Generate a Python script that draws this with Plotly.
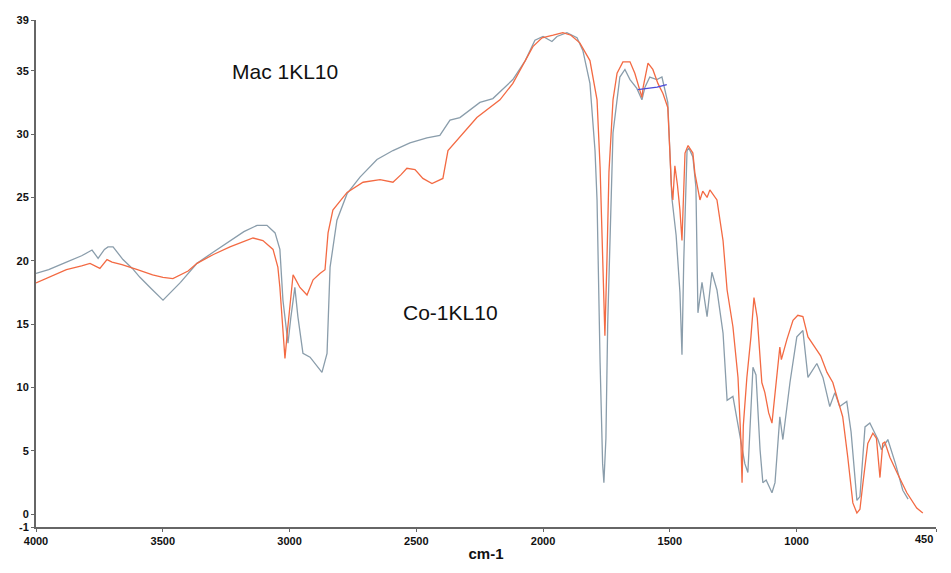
import plotly.graph_objects as go

# Series: Mac 1KL10 (grey-blue)
mac_wn = [4000, 3950, 3880, 3820, 3779, 3755, 3730, 3716, 3696, 3657, 3620, 3590, 3545, 3499,
          3430, 3365, 3300, 3235, 3180, 3128, 3089, 3057, 3038, 3026, 3006, 2995, 2979, 2967,
          2947, 2919, 2895, 2872, 2852, 2840, 2813, 2773, 2722, 2655, 2592, 2525, 2458, 2407,
          2367, 2328, 2249, 2198, 2119, 2070, 2032, 2000, 1965, 1945, 1906, 1866, 1843, 1815,
          1795, 1787, 1775, 1765, 1760, 1752, 1745, 1736, 1724, 1697, 1677, 1657, 1630, 1610,
          1598, 1579, 1551, 1531, 1519, 1508, 1492, 1475, 1460, 1452, 1445, 1432, 1425, 1409,
          1397, 1389, 1373, 1353, 1334, 1314, 1290, 1274, 1251, 1231, 1215, 1204, 1192, 1172,
          1160, 1144, 1133, 1120, 1097, 1085, 1066, 1054, 1026, 999, 975, 955, 920, 896, 869,
          849, 830, 802, 785, 762, 750, 730, 711, 679, 665, 640, 610, 581, 560]
mac_t = [19.0, 19.3, 19.9, 20.4, 20.85, 20.2, 20.9, 21.1, 21.1, 20.1, 19.4, 18.7, 17.8, 16.9,
         18.3, 19.8, 20.7, 21.6, 22.3, 22.8, 22.8, 22.2, 20.9, 16.9, 13.5, 15.5, 17.9, 15.6,
         12.7, 12.4, 11.8, 11.2, 12.7, 19.5, 23.2, 25.3, 26.6, 28.0, 28.7, 29.3, 29.7, 29.9,
         31.1, 31.3, 32.5, 32.8, 34.3, 35.8, 37.4, 37.7, 37.3, 37.7, 38.0, 37.6, 36.6, 34.0,
         28.7, 24.8, 12.0, 4.0, 2.5, 6.0, 15.0, 22.2, 30.1, 34.5, 35.1, 34.3, 33.6, 32.7,
         33.7, 34.5, 34.3, 34.5, 33.5, 32.5, 25.0, 22.0, 17.5, 12.6, 20.0, 28.7, 28.9, 28.2,
         25.8, 15.9, 18.3, 15.6, 19.1, 17.7, 14.3, 9.0, 9.3, 6.9, 5.1, 4.0, 3.3, 11.6,
         11.0, 5.1, 2.5, 2.7, 1.7, 2.5, 7.7, 5.9, 10.4, 14.0, 14.5, 10.8, 11.9, 10.8, 8.5,
         9.6, 8.5, 8.9, 6.5, 1.1, 1.4, 6.9, 7.2, 5.9, 5.1, 5.9, 4.0, 1.9, 1.2]

# Series: Co-1KL10 (orange)
co_wn = [4000, 3950, 3880, 3820, 3787, 3748, 3720, 3700, 3661, 3600, 3540, 3499, 3460, 3400,
         3365, 3300, 3235, 3144, 3105, 3065, 3046, 3038, 3026, 3018, 3008, 2998, 2986, 2975,
         2959, 2931, 2907, 2880, 2860, 2848, 2829, 2773, 2710, 2643, 2592, 2560, 2537, 2505,
         2474, 2438, 2395, 2375, 2328, 2261, 2170, 2119, 2040, 2004, 1960, 1922, 1890, 1855,
         1815, 1787, 1775, 1765, 1756, 1748, 1740, 1724, 1708, 1685, 1657, 1638, 1610, 1605,
         1586, 1567, 1547, 1527, 1508, 1500, 1494, 1488, 1480, 1470, 1460, 1452, 1446, 1440,
         1428, 1409, 1401, 1381, 1370, 1353, 1342, 1314, 1290, 1274, 1251, 1231, 1220, 1215,
         1210, 1196, 1180, 1168, 1155, 1137, 1125, 1110, 1097, 1085, 1066, 1060, 1038, 1014,
         995, 975, 955, 928, 905, 880, 857, 837, 818, 798, 778, 762, 750, 738, 719, 699, 685,
         671, 660, 652, 632, 604, 565, 526, 502]
co_t = [18.25, 18.7, 19.3, 19.6, 19.8, 19.4, 20.1, 19.9, 19.7, 19.3, 18.9, 18.7, 18.6, 19.2,
        19.8, 20.5, 21.1, 21.8, 21.6, 20.9, 19.5, 17.9, 14.5, 12.3, 14.5, 16.4, 18.9, 18.5,
        17.9, 17.3, 18.5, 19.0, 19.3, 22.2, 24.0, 25.4, 26.2, 26.4, 26.2, 26.8, 27.3, 27.2,
        26.5, 26.1, 26.5, 28.7, 29.8, 31.3, 32.7, 34.0, 36.9, 37.6, 37.8, 38.0, 37.8, 37.2,
        35.8, 32.7, 27.4, 20.0, 14.1, 20.0, 27.0, 32.7, 34.8, 35.7, 35.7, 34.8, 32.9, 33.7,
        35.6, 35.1, 34.0, 33.2, 32.1, 28.7, 26.0, 24.8, 27.5, 26.0, 24.0, 21.6, 26.0, 28.5,
        29.1, 28.5, 26.9, 24.8, 25.5, 25.0, 25.6, 24.8, 21.6, 17.7, 14.8, 10.8, 6.0, 2.5,
        7.0, 10.8, 14.0, 17.1, 15.5, 10.4, 9.6, 8.0, 7.2, 9.6, 13.2, 12.2, 13.8, 15.3,
        15.7, 15.6, 14.0, 13.2, 12.5, 11.2, 10.4, 9.0, 7.7, 4.5, 0.9, 0.1, 0.4, 2.5, 5.6, 6.4, 6.0,
        2.9, 5.6, 5.7, 4.5, 3.3, 1.7, 0.5, 0.1]

# Small blue segment
blue_wn = [1626, 1590, 1550, 1512]
blue_t = [33.5, 33.6, 33.7, 33.9]

x_ticks = [4000, 3500, 3000, 2500, 2000, 1500, 1000, 450]
y_ticks = [-1, 0, 5, 10, 15, 20, 25, 30, 35, 39]

fig = go.Figure()
fig.add_trace(go.Scatter(x=mac_wn, y=mac_t, mode="lines", name="Mac 1KL10",
                         line=dict(color="#8a9dab", width=1.3)))
fig.add_trace(go.Scatter(x=co_wn, y=co_t, mode="lines", name="Co-1KL10",
                         line=dict(color="#f36a43", width=1.3)))
fig.add_trace(go.Scatter(x=blue_wn, y=blue_t, mode="lines", name="",
                         line=dict(color="#4b4bd8", width=1.3)))

fig.add_annotation(x=3018, y=34.9, text="Mac 1KL10", showarrow=False,
                   font=dict(family="Liberation Sans, Arial", size=21, color="#111"))
fig.add_annotation(x=2367, y=15.9, text="Co-1KL10", showarrow=False,
                   font=dict(family="Liberation Sans, Arial", size=21, color="#111"))

axis_font = dict(family="Liberation Sans, Arial", size=11, color="#111")

# last tick label drawn slightly inward so it is not clipped at the page edge
tick_text = [f"<b>{v}</b>" for v in x_ticks[:-1]] + [""]
fig.add_annotation(x=x_ticks[-1], xref="x", y=0, yref="paper", yanchor="top",
                   text=f"<b>{x_ticks[-1]}</b>", showarrow=False, xshift=-12, yshift=-4,
                   font=axis_font)

fig.update_layout(
    width=943, height=557,
    margin=dict(l=28, r=15, t=12, b=38, autoexpand=False),
    paper_bgcolor="white", plot_bgcolor="white",
    showlegend=False,
    font=dict(family="Liberation Sans, Arial"),
    xaxis=dict(range=[4000, 450], tickvals=x_ticks, ticktext=tick_text,
               showline=True, linecolor="#666", linewidth=2, ticks="outside", ticklen=3,
               tickcolor="#666", showgrid=False, zeroline=False, tickfont=axis_font,
               automargin=False,
               title=dict(text="<b>cm-1</b>", font=dict(size=15, color="#111"), standoff=2)),
    yaxis=dict(range=[-1, 39], tickvals=y_ticks, ticktext=[f"<b>{v}</b>" for v in y_ticks],
               showline=True, linecolor="#666", linewidth=2, ticks="outside", ticklen=3,
               tickcolor="#666", showgrid=False, zeroline=False, tickfont=axis_font,
               automargin=False),
)

fig.write_html("out.html")
